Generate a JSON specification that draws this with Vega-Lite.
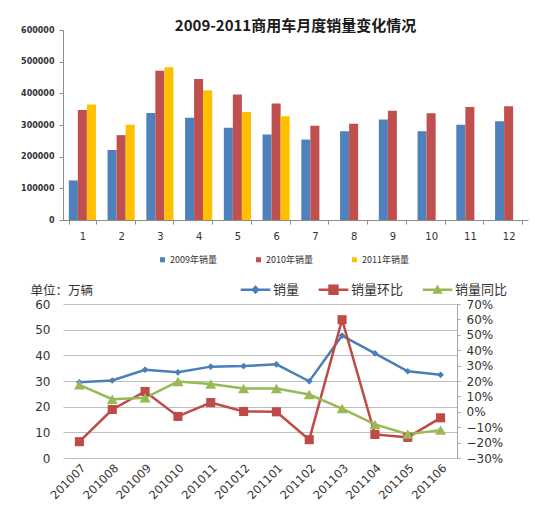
{
  "$schema": "https://vega.github.io/schema/vega-lite/v6.json",
  "background": "white",
  "padding": {"left": 20, "top": 19, "right": 5, "bottom": 5},
  "spacing": 18,
  "config": {"view": {"stroke": null}, "font": "DejaVu Sans"},
  "resolve": {"scale": {"color": "independent"}, "legend": {"color": "independent"}},
  "datasets": {
    "yearly": [
      {"month": 1, "series": "2009年销量", "value": 125000},
      {"month": 1, "series": "2010年销量", "value": 347000},
      {"month": 1, "series": "2011年销量", "value": 365000},
      {"month": 2, "series": "2009年销量", "value": 221000},
      {"month": 2, "series": "2010年销量", "value": 268000},
      {"month": 2, "series": "2011年销量", "value": 301000},
      {"month": 3, "series": "2009年销量", "value": 338000},
      {"month": 3, "series": "2010年销量", "value": 471000},
      {"month": 3, "series": "2011年销量", "value": 482000},
      {"month": 4, "series": "2009年销量", "value": 323000},
      {"month": 4, "series": "2010年销量", "value": 445000},
      {"month": 4, "series": "2011年销量", "value": 410000},
      {"month": 5, "series": "2009年销量", "value": 291000},
      {"month": 5, "series": "2010年销量", "value": 396000},
      {"month": 5, "series": "2011年销量", "value": 341000},
      {"month": 6, "series": "2009年销量", "value": 270000},
      {"month": 6, "series": "2010年销量", "value": 368000},
      {"month": 6, "series": "2011年销量", "value": 328000},
      {"month": 7, "series": "2009年销量", "value": 254000},
      {"month": 7, "series": "2010年销量", "value": 298000},
      {"month": 8, "series": "2009年销量", "value": 280000},
      {"month": 8, "series": "2010年销量", "value": 304000},
      {"month": 9, "series": "2009年销量", "value": 317000},
      {"month": 9, "series": "2010年销量", "value": 345000},
      {"month": 10, "series": "2009年销量", "value": 280000},
      {"month": 10, "series": "2010年销量", "value": 337000},
      {"month": 11, "series": "2009年销量", "value": 301000},
      {"month": 11, "series": "2010年销量", "value": 357000},
      {"month": 12, "series": "2009年销量", "value": 312000},
      {"month": 12, "series": "2010年销量", "value": 359000}
    ],
    "monthly": [
      {"date": "201007", "series": "销量", "value": 29.5},
      {"date": "201008", "series": "销量", "value": 30.2},
      {"date": "201009", "series": "销量", "value": 34.4},
      {"date": "201010", "series": "销量", "value": 33.4},
      {"date": "201011", "series": "销量", "value": 35.6},
      {"date": "201012", "series": "销量", "value": 35.8},
      {"date": "201101", "series": "销量", "value": 36.5},
      {"date": "201102", "series": "销量", "value": 29.9},
      {"date": "201103", "series": "销量", "value": 47.7},
      {"date": "201104", "series": "销量", "value": 40.8},
      {"date": "201105", "series": "销量", "value": 33.8},
      {"date": "201106", "series": "销量", "value": 32.4},
      {"date": "201007", "series": "销量环比", "value": -0.194},
      {"date": "201008", "series": "销量环比", "value": 0.015},
      {"date": "201009", "series": "销量环比", "value": 0.132},
      {"date": "201010", "series": "销量环比", "value": -0.03},
      {"date": "201011", "series": "销量环比", "value": 0.06},
      {"date": "201012", "series": "销量环比", "value": 0.002},
      {"date": "201101", "series": "销量环比", "value": 0.0},
      {"date": "201102", "series": "销量环比", "value": -0.181},
      {"date": "201103", "series": "销量环比", "value": 0.598},
      {"date": "201104", "series": "销量环比", "value": -0.147},
      {"date": "201105", "series": "销量环比", "value": -0.166},
      {"date": "201106", "series": "销量环比", "value": -0.039},
      {"date": "201007", "series": "销量同比", "value": 0.175},
      {"date": "201008", "series": "销量同比", "value": 0.082},
      {"date": "201009", "series": "销量同比", "value": 0.091},
      {"date": "201010", "series": "销量同比", "value": 0.196},
      {"date": "201011", "series": "销量同比", "value": 0.181},
      {"date": "201012", "series": "销量同比", "value": 0.151},
      {"date": "201101", "series": "销量同比", "value": 0.151},
      {"date": "201102", "series": "销量同比", "value": 0.112},
      {"date": "201103", "series": "销量同比", "value": 0.021},
      {"date": "201104", "series": "销量同比", "value": -0.082},
      {"date": "201105", "series": "销量同比", "value": -0.145},
      {"date": "201106", "series": "销量同比", "value": -0.119}
    ]
  },
  "vconcat": [
    {
      "width": 465,
      "height": 190,
      "data": {"name": "yearly"},
      "title": {
        "text": "2009-2011商用车月度销量变化情况",
        "font": "Noto Sans CJK SC",
        "fontSize": 15,
        "fontWeight": "bold",
        "color": "#1a1a1a",
        "anchor": "middle",
        "offset": -8
      },
      "mark": {"type": "bar"},
      "encoding": {
        "x": {
          "field": "month",
          "type": "ordinal",
          "scale": {"paddingInner": 0.3, "paddingOuter": 0.15},
          "axis": {
            "title": null,
            "labelAngle": 0,
            "labelFontSize": 10,
            "labelColor": "#333333",
            "labelPadding": 7,
            "domainColor": "#8c8c8c",
            "tickColor": "#8c8c8c",
            "tickBand": "extent",
            "tickSize": 4
          }
        },
        "xOffset": {
          "field": "series",
          "type": "nominal",
          "sort": ["2009年销量", "2010年销量", "2011年销量"]
        },
        "y": {
          "field": "value",
          "type": "quantitative",
          "scale": {"domain": [0, 600000]},
          "axis": {
            "title": null,
            "values": [0, 100000, 200000, 300000, 400000, 500000, 600000],
            "format": "d",
            "grid": false,
            "labelFontSize": 8,
            "labelFontWeight": "bold",
            "labelColor": "#333333",
            "labelPadding": 5,
            "domainColor": "#8c8c8c",
            "tickColor": "#8c8c8c",
            "tickSize": 4
          }
        },
        "color": {
          "field": "series",
          "type": "nominal",
          "scale": {
            "domain": ["2009年销量", "2010年销量", "2011年销量"],
            "range": ["#4F81BD", "#C0504D", "#FFC000"]
          },
          "legend": {
            "title": null,
            "orient": "none",
            "direction": "horizontal",
            "legendX": 95,
            "legendY": 225,
            "symbolType": "square",
            "symbolSize": 25,
            "labelFont": "Noto Sans CJK SC",
            "labelFontSize": 9,
            "labelColor": "#333333",
            "labelOffset": 3,
            "columnPadding": 37
          }
        }
      }
    },
    {
      "width": 394,
      "height": 154,
      "data": {"name": "monthly"},
      "encoding": {
        "x": {
          "field": "date",
          "type": "ordinal",
          "scale": {"type": "point", "padding": 0.5},
          "axis": {
            "title": null,
            "labelAngle": -45,
            "labelAlign": "right",
            "labelBaseline": "top",
            "labelFontSize": 11.5,
            "labelColor": "#333333",
            "labelPadding": 4,
            "domain": false,
            "ticks": false
          }
        }
      },
      "layer": [
        {
          "transform": [{"filter": "datum.series === '销量'"}],
          "encoding": {
            "y": {
              "field": "value",
              "type": "quantitative",
              "scale": {"domain": [0, 60]},
              "axis": {
                "orient": "left",
                "title": "单位：万辆",
                "titleAngle": 0,
                "titleX": -33,
                "titleY": -14,
                "titleAlign": "left",
                "titleBaseline": "middle",
                "titleFont": "Noto Sans CJK SC",
                "titleFontSize": 12.5,
                "titleFontWeight": "normal",
                "titleColor": "#333333",
                "values": [0, 10, 20, 30, 40, 50, 60],
                "grid": true,
                "gridColor": "#bfbfbf",
                "domain": false,
                "ticks": false,
                "labelFontSize": 12,
                "labelColor": "#333333",
                "labelPadding": 13
              }
            }
          },
          "layer": [
            {
              "mark": {"type": "line", "strokeWidth": 2.5},
              "encoding": {
                "color": {
                  "field": "series",
                  "type": "nominal",
                  "scale": {
                    "domain": ["销量", "销量环比", "销量同比"],
                    "range": ["#4A7EBB", "#BE4B48", "#98B954"]
                  },
                  "legend": {
                    "title": null,
                    "orient": "none",
                    "direction": "horizontal",
                    "legendX": 186,
                    "legendY": -21,
                    "symbolSize": 64,
                    "labelFont": "Noto Sans CJK SC",
                    "labelFontSize": 13,
                    "labelColor": "#333333",
                    "labelOffset": 11,
                    "columnPadding": 18,
                    "encode": {
                      "symbols": {
                        "update": {
                          "shape": {"signal": "datum.value === '销量' ? 'M-3.7,-0.3H3.7V0.3H-3.7Z M0,-1.1L1.1,0L0,1.1L-1.1,0Z' : datum.value === '销量环比' ? 'M-3.7,-0.3H3.7V0.3H-3.7Z M-1.3,-1.3H1.3V1.3H-1.3Z' : 'M-3.7,-0.3H3.7V0.3H-3.7Z M0,-1.3L1.3,1L-1.3,1Z'"},
                          "fill": {"scale": "color", "field": "value"},
                          "strokeWidth": {"value": 0},
                          "opacity": {"value": 1}
                        }
                      }
                    }
                  }
                }
              }
            },
            {
              "mark": {"type": "point", "filled": true, "opacity": 1},
              "encoding": {
                "color": {"field": "series", "type": "nominal"},
                "shape": {
                  "field": "series",
                  "type": "nominal",
                  "scale": {"domain": ["销量", "销量环比", "销量同比"], "range": ["diamond", "square", "triangle-up"]},
                  "legend": null
                },
                "size": {
                  "field": "series",
                  "type": "nominal",
                  "scale": {"domain": ["销量", "销量环比", "销量同比"], "range": [45, 120, 65]},
                  "legend": null
                }
              }
            }
          ]
        },
        {
          "transform": [{"filter": "datum.series !== '销量'"}],
          "encoding": {
            "y": {
              "field": "value",
              "type": "quantitative",
              "scale": {"domain": [-0.3, 0.7]},
              "axis": {
                "orient": "right",
                "title": null,
                "format": ".0%",
                "values": [-0.3, -0.2, -0.1, 0, 0.1, 0.2, 0.3, 0.4, 0.5, 0.6, 0.7],
                "grid": false,
                "domain": true,
                "domainColor": "#a6a6a6",
                "ticks": true,
                "tickColor": "#a6a6a6",
                "tickSize": 3,
                "labelFontSize": 12,
                "labelColor": "#333333",
                "labelPadding": 6
              }
            }
          },
          "layer": [
            {
              "mark": {"type": "line", "strokeWidth": 2.5},
              "encoding": {"color": {"field": "series", "type": "nominal"}}
            },
            {
              "mark": {"type": "point", "filled": true, "opacity": 1},
              "encoding": {
                "color": {"field": "series", "type": "nominal"},
                "shape": {"field": "series", "type": "nominal", "legend": null},
                "size": {"field": "series", "type": "nominal", "legend": null}
              }
            }
          ]
        }
      ],
      "resolve": {"scale": {"y": "independent"}}
    }
  ]
}
